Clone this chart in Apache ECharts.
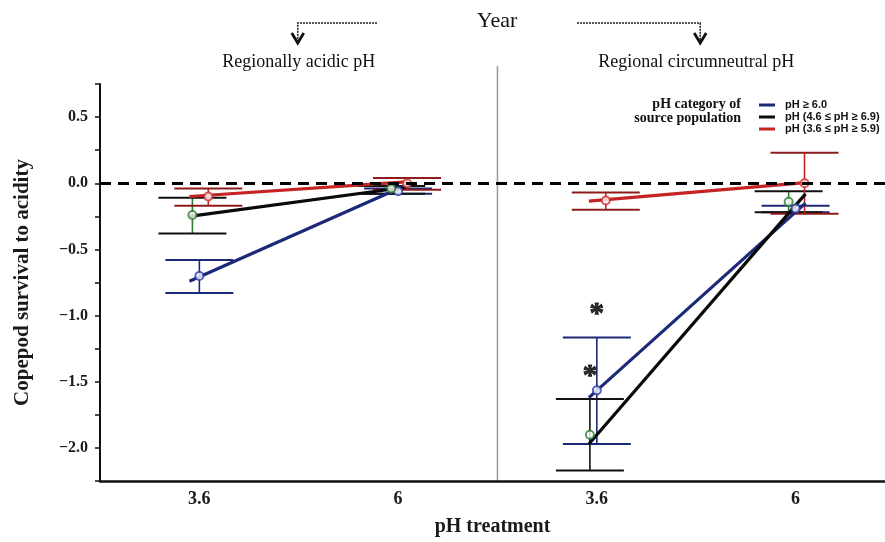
<!DOCTYPE html>
<html><head><meta charset="utf-8">
<script src="https://cdn.jsdelivr.net/npm/echarts@6/dist/echarts.min.js"></script>
<style>html,body{margin:0;padding:0;background:#fff}#c{width:885px;height:542px}</style>
</head><body><div id="c"></div>
<script>
// ---------- data ----------
const xTickLabels = ['3.6', '6', '3.6', '6'];
const panelTitles = ['Regionally acidic pH', 'Regional circumneutral pH'];
const seriesNames = ['pH ≥ 6.0', 'pH (4.6 ≤ pH ≥ 6.9)', 'pH (3.6 ≤ pH ≥ 5.9)'];
// order of groups: acidic 3.6, acidic 6, circumneutral 3.6, circumneutral 6
const blueMean  = [-0.70, -0.06, -1.565, -0.19];
const blueLow   = [-0.83, -0.08, -1.97, -0.22];
const blueHigh  = [-0.58, -0.04, -1.165, -0.17];
const blackMean = [-0.24, -0.04, -1.90, -0.14];
const blackLow  = [-0.38, -0.08, -2.17, -0.22];
const blackHigh = [-0.11, -0.02, -1.63, -0.06];
const redMean   = [-0.10, 0.00, -0.13, 0.00];
const redLow    = [-0.17, -0.05, -0.20, -0.23];
const redHigh   = [-0.04, 0.04, -0.07, 0.23];
// fitted lines: [start at 3.6, end at 6] for each panel
const blueLine  = [[-0.74, -0.015], [-1.62, -0.15]];
const blackLine = [[-0.25, -0.03], [-1.97, -0.08]];
const redLine   = [[-0.10, 0.01], [-0.135, 0.005]];
const asteriskY = [-0.99, -1.46];

// ---------- layout / style constants ----------
const slots = [1, 3, 5, 7];
const lineSpan = [[0.9, 3.08], [4.92, 7.1]];
const offs = [0, -0.07, 0.09];   // blue, black, red
const SERIF = "'Liberation Serif','Times New Roman',serif";
const lineColors = ['#1c2878', '#0a0a0a', '#c62424'];
const markColors = ['#2a3fa8', '#2e7d32', '#d03030'];
const capColors  = ['#1c2878', '#111111', '#8e1c1c'];

const means = [blueMean, blackMean, redMean];
const lows  = [blueLow, blackLow, redLow];
const highs = [blueHigh, blackHigh, redHigh];
const fits  = [blueLine, blackLine, redLine];

const chart = echarts.init(document.getElementById('c'), null, {renderer: 'canvas'});

const errData = [];
means.forEach((m, s) => m.forEach((v, g) => {
  errData.push([slots[g] + offs[s], lows[s][g], highs[s][g], s, g]);
}));

const series = [];
// error bars
series.push({
  type: 'custom', z: 2, silent: true,
  renderItem(params, api) {
    const x = api.value(0), lo = api.value(1), hi = api.value(2), s = api.value(3), g = api.value(4);
    const t = api.coord([x, hi]), b = api.coord([x, lo]);
    const hw = 34;
    let vc = s === 1 ? (g === 2 ? '#111' : '#2e7d32') : (s === 2 ? '#c62424' : '#1c2878');
    return {type: 'group', children: [
      {type: 'line', shape: {x1: t[0], y1: t[1], x2: b[0], y2: b[1]}, style: {stroke: vc, lineWidth: 1.6}},
      {type: 'line', shape: {x1: t[0] - hw, y1: t[1], x2: t[0] + hw, y2: t[1]}, style: {stroke: capColors[s], lineWidth: 2}},
      {type: 'line', shape: {x1: b[0] - hw, y1: b[1], x2: b[0] + hw, y2: b[1]}, style: {stroke: capColors[s], lineWidth: 2}}
    ]};
  },
  data: errData
});
// fitted lines
[0, 1, 2].forEach(s => {
  [0, 1].forEach(p => {
    series.push({
      type: 'line', name: seriesNames[s], z: 3, silent: true,
      symbol: 'none', itemStyle: {color: lineColors[s]},
      lineStyle: {color: lineColors[s], width: 3.2},
      data: [[lineSpan[p][0], fits[s][p][0]], [lineSpan[p][1], fits[s][p][1]]]
    });
  });
});
// markers
[0, 1, 2].forEach(s => {
  series.push({
    type: 'scatter', z: 4, silent: true, symbol: 'emptyCircle', symbolSize: 8,
    itemStyle: {color: markColors[s], borderColor: markColors[s], borderWidth: 1.6},
    data: means[s].map((v, g) => [slots[g] + offs[s], v])
  });
});
// asterisks
series.push({
  type: 'scatter', z: 5, silent: true, symbolSize: 0,
  label: {show: true, position: 'inside', formatter: '*', fontSize: 29, fontWeight: 'bold', color: '#000',
    fontFamily: SERIF, textBorderColor: '#000', textBorderWidth: 1},
  data: [[slots[2] + offs[0], asteriskY[0]], [slots[2] + offs[1], asteriskY[1]]]
});
// zero reference
series.push({
  type: 'line', data: [], silent: true,
  markLine: {silent: true, symbol: 'none', label: {show: false},
    lineStyle: {type: [11, 7], width: 3.2, color: '#000'}, data: [{yAxis: 0}]}
});

const fmt = v => (v < 0 ? '\u2212' : '') + Math.abs(v).toFixed(1);

chart.setOption({
  animation: false,
  backgroundColor: '#fff',
  grid: {left: 100, right: 0, top: 84, bottom: 58},
  xAxis: {
    type: 'value', min: 0, max: 7.9, interval: 1,
    axisLine: {show: true, onZero: false, lineStyle: {color: '#111', width: 2.5}},
    axisTick: {show: false}, splitLine: {show: false},
    axisLabel: {margin: 9, fontFamily: SERIF, fontSize: 18, fontWeight: 'bold', color: '#1a1a1a',
      showMaxLabel: false, showMinLabel: false,
      formatter: v => { const i = slots.indexOf(Math.round(v)); return (i >= 0 && Math.abs(v - slots[i]) < 1e-6) ? xTickLabels[i] : ''; }},
    name: 'pH treatment', nameLocation: 'middle', nameGap: 36,
    nameTextStyle: {fontFamily: SERIF, fontSize: 20, fontWeight: 'bold', color: '#1a1a1a'}
  },
  yAxis: {
    type: 'value', min: -2.25, max: 0.75, interval: 0.25,
    axisLine: {show: true, lineStyle: {color: '#111', width: 2}},
    axisTick: {show: true, length: 5, lineStyle: {color: '#111', width: 1.5}},
    splitLine: {show: false},
    axisLabel: {margin: 12, fontFamily: SERIF, fontSize: 16, fontWeight: 'bold', color: '#1a1a1a', hideOverlap: false,
      formatter: v => Math.abs(v * 2 - Math.round(v * 2)) < 1e-6 ? fmt(v) : ''},
    name: 'Copepod survival to acidity', nameLocation: 'middle', nameGap: 67, nameRotate: 90,
    nameTextStyle: {fontFamily: SERIF, fontSize: 21, fontWeight: 'bold', color: '#1a1a1a'}
  },
  legend: {
    orient: 'vertical', left: 754, top: 94, itemWidth: 16, itemHeight: 3, itemGap: 0,
    icon: 'rect', selectedMode: false,
    data: seriesNames,
    textStyle: {fontFamily: "'Liberation Sans',Arial,sans-serif", fontSize: 11, fontWeight: 'bold', color: '#111', lineHeight: 12, padding: [0, 0, 0, 5]}
  },
  series
});

// decorations
const divX = chart.convertToPixel({xAxisIndex: 0}, 4);
const bottomY = chart.convertToPixel({yAxisIndex: 0}, -2.25);
const leftC = chart.convertToPixel({xAxisIndex: 0}, 2);
const rightC = chart.convertToPixel({xAxisIndex: 0}, 6);
chart.setOption({
  graphic: [
    {type: 'line', silent: true, shape: {x1: divX, y1: 66, x2: divX, y2: bottomY}, style: {stroke: '#9a9a9a', lineWidth: 1.5}},
    {type: 'text', silent: true, x: 497, y: 21, style: {text: 'Year', font: '22px ' + SERIF, fill: '#111', align: 'center', verticalAlign: 'middle'}},
    {type: 'text', silent: true, x: leftC, y: 62, style: {text: panelTitles[0], font: '18px ' + SERIF, fill: '#111', align: 'center', verticalAlign: 'middle'}},
    {type: 'text', silent: true, x: rightC, y: 62, style: {text: panelTitles[1], font: '18px ' + SERIF, fill: '#111', align: 'center', verticalAlign: 'middle'}},
    {type: 'polyline', silent: true, shape: {points: [[377, 23], [leftC - 1, 23], [leftC - 1, 40]]}, style: {stroke: '#222', lineWidth: 1.6, lineDash: [2, 1], fill: null}},
    {type: 'polyline', silent: true, shape: {points: [[leftC - 7, 33], [leftC - 1, 43], [leftC + 5, 33]]}, style: {stroke: '#111', lineWidth: 2.8, fill: null}},
    {type: 'polyline', silent: true, shape: {points: [[577, 23], [rightC + 4, 23], [rightC + 4, 40]]}, style: {stroke: '#222', lineWidth: 1.6, lineDash: [2, 1], fill: null}},
    {type: 'polyline', silent: true, shape: {points: [[rightC - 2, 33], [rightC + 4, 43], [rightC + 10, 33]]}, style: {stroke: '#111', lineWidth: 2.8, fill: null}},
    {type: 'text', silent: true, x: 741, y: 111.5, style: {text: 'pH category of\nsource population', font: 'bold 14px ' + SERIF, lineHeight: 14, fill: '#111', align: 'right', verticalAlign: 'middle'}}
  ]
});
</script></body></html>
